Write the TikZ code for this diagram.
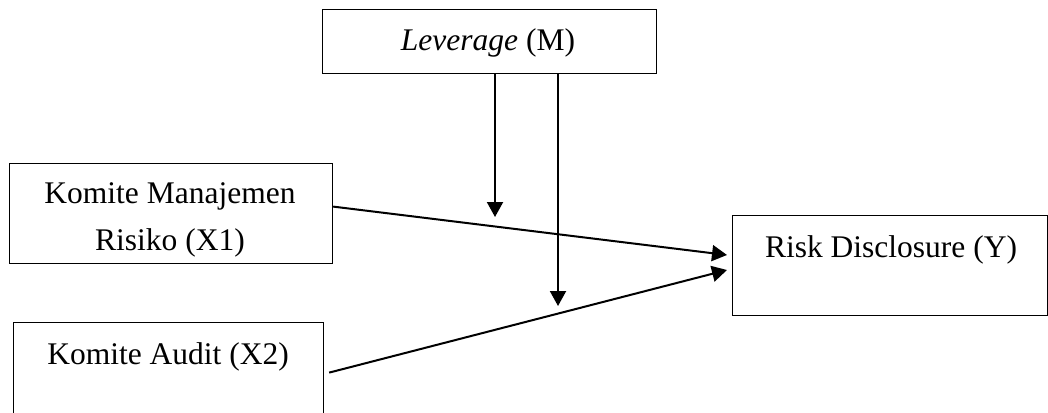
\documentclass[tikz,border=0pt]{standalone}
\usepackage{fontspec}
\setmainfont{Liberation Serif}
\usetikzlibrary{arrows.meta}

\tikzset{
  varbox/.style={draw, line width=0.6pt, inner sep=0pt, anchor=north west},
  vartext/.style={anchor=base, inner sep=0pt, font=\fontsize{15.75}{19}\selectfont},
  link/.style={line width=1pt, -{Triangle[length=7.5pt, width=8pt]}},
}

\begin{document}
\begin{tikzpicture}[x=0.5pt, y=-0.5pt]
	\useasboundingbox (0,0) rectangle (1048,412);
	\clip (0,0) rectangle (1048,412);

	% variable boxes
	\node[varbox, minimum width=167pt, minimum height=32pt] (lev) at (322,9) {};
	\node[varbox, minimum width=161.5pt, minimum height=50pt] (x1) at (9,163) {};
	\node[varbox, minimum width=155pt, minimum height=64pt] (x2) at (13,322) {};
	\node[varbox, minimum width=157.5pt, minimum height=50pt] (y) at (732,215) {};

	% labels
	\node[vartext] (levtext) at (488,50) {\textit{Leverage} (M)};
	\node[vartext] (x1a) at (170,203) {Komite Manajemen};
	\node[vartext] (x1b) at (170,250) {Risiko (X1)};
	\node[vartext] (x2text) at (168,364) {Komite Audit (X2)};
	\node[vartext] (ytext) at (891,257) {Risk Disclosure (Y)};

	% moderating arrows
	\coordinate (m1) at (495,217);
	\coordinate (m2) at (558,306);
	\draw[link] (lev.south -| m1) -- (m1);
	\draw[link] (lev.south -| m2) -- (m2);

	% direct effects
	\coordinate (y1) at (727,255);
	\coordinate (y2) at (727,270);
	\draw[link] ([yshift=3.5pt]x1.east) -- (y1);
	\draw[link] ([xshift=2.5pt, yshift=7pt]x2.east) -- (y2);
\end{tikzpicture}
\end{document}
